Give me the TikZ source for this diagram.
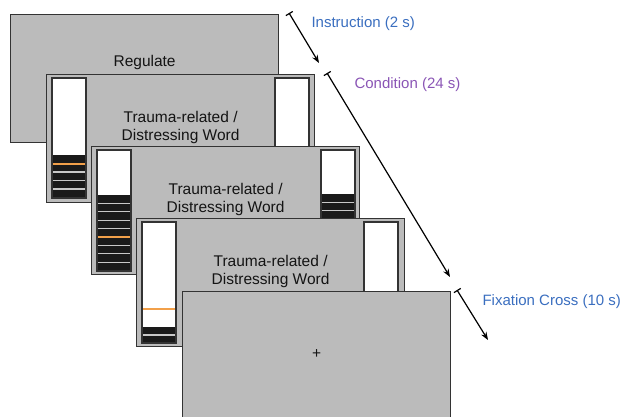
\documentclass[tikz,border=0pt]{standalone}
\usepackage{fontspec}
\setmainfont{Liberation Sans}
\usetikzlibrary{positioning, arrows.meta}
\definecolor{ScreenGray}{HTML}{BBBBBB}
\definecolor{FrameDark}{HTML}{333333}
\definecolor{SlotBlack}{HTML}{1A1A1A}
\definecolor{SlotGap}{HTML}{C8C8C8}
\definecolor{TargetOrange}{HTML}{F2A04A}
\definecolor{CueBlue}{HTML}{3A6EBF}
\definecolor{CuePurple}{HTML}{8A55B5}

\begin{document}
\begin{tikzpicture}[x=1pt, y=-1pt,
    screen/.style={draw=FrameDark, fill=ScreenGray, line width=1.2pt, minimum width=268pt, minimum height=128pt, inner sep=0pt, anchor=north west},
    word/.style={font=\fontsize{15.5}{18}\selectfont, align=center, text=black!92},
    gauge/.style={draw=FrameDark, fill=white, line width=1.2pt},
    gap/.style={SlotGap, line width=1.2pt},
    target/.style={TargetOrange, line width=2pt},
    phase/.style={font=\fontsize{15}{18}\selectfont, anchor=west},
    timeline/.style={line width=1.2pt, {Bar[width=8pt]}-{Stealth[length=8pt, width=6pt]}}]
  \useasboundingbox (0,0) rectangle (620,416);

  \node[screen] (instr) at (10,14) {};
  \node[word] (instrtxt) at ([yshift=16pt]instr.center) {Regulate};

  \node[screen] (condA) at (46,74) {};
  \node[word] (condAtxt) at ([yshift=11pt]condA.center) {Trauma-related /\\Distressing Word};
  \draw[gauge] (52,78) rectangle (86,198);
  \draw[gauge] (275,78) rectangle (309,198);
  \fill[SlotBlack] (53,155) rectangle (85,197);
  \foreach \k in {2,...,4}
    \draw[gap] (53,{155+8.5*\k}) -- (85,{155+8.5*\k});
  \draw[target] (53,163.5) -- (85,163.5);

  \node[screen] (condB) at (91,146) {};
  \node[word] (condBtxt) at ([yshift=11pt]condB.center) {Trauma-related /\\Distressing Word};
  \draw[gauge] (97,150) rectangle (131,271);
  \draw[gauge] (321,150) rectangle (355,271);
  \fill[SlotBlack] (98,195) rectangle (130,270);
  \foreach \k in {1,...,8}
    \draw[gap] (98,{195+8.4*\k}) -- (130,{195+8.4*\k});
  \draw[target] (98,237) -- (130,237);
  \fill[SlotBlack] (322,194) rectangle (354,270);
  \foreach \k in {1,...,8}
    \draw[gap] (322,{194+8.4*\k}) -- (354,{194+8.4*\k});

  \node[screen] (condC) at (136,218) {};
  \node[word] (condCtxt) at ([yshift=11pt]condC.center) {Trauma-related /\\Distressing Word};
  \draw[gauge] (142,222) rectangle (176,343);
  \draw[gauge] (364,222) rectangle (398,343);
  \draw[target] (143,309) -- (175,309);
  \fill[SlotBlack] (143,327) rectangle (175,342);
  \draw[gap] (143,335) -- (175,335);

  \node[screen] (fix) at (182,291) {};
  \node[word] (fixtxt) at ([yshift=2pt]fix.center) {+};

  \coordinate (i0) at (289,13);
  \coordinate (i1) at (319,63);
  \coordinate (c0) at (327,73);
  \coordinate (c1) at (450,277);
  \coordinate (f0) at (457,290);
  \coordinate (f1) at (488,340);
  \draw[timeline] (i0) -- (i1);
  \draw[timeline] (c0) -- (c1);
  \draw[timeline] (f0) -- (f1);

  \node[phase, text=CueBlue] (instrlab) at (308,24) {Instruction (2 s)};
  \node[phase, text=CuePurple] (condlab) at (351,85) {Condition (24 s)};
  \node[phase, text=CueBlue] (fixlab) at (479,302) {Fixation Cross (10 s)};
\end{tikzpicture}
\end{document}
